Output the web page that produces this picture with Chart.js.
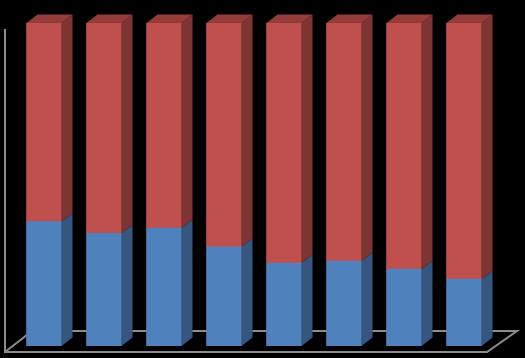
<!DOCTYPE html>
<html>
<head>
<meta charset="utf-8">
<script src="https://cdn.jsdelivr.net/npm/chart.js@4/dist/chart.umd.min.js"></script>
<style>
html,body{margin:0;padding:0;background:#000;}
#wrap{width:525px;height:358px;}
</style>
</head>
<body>
<div id="wrap"><canvas id="c" width="525" height="358"></canvas></div>
<script>
const categories = ["1", "2", "3", "4", "5", "6", "7", "8"];
const blueSeries = [38.5, 34.9, 36.5, 30.7, 25.7, 26.3, 23.8, 20.7];
const redSeries = [61.5, 65.1, 63.5, 69.3, 74.3, 73.7, 76.2, 79.3];

const DX = 11, DY = 8.5;
const sideColors = ["#36567f", "#7d3432"];
const topColors = ["#4a6f9e", "#953b39"];

const threeD = {
  id: 'threeD',
  beforeDraw(chart) {
    const ctx = chart.ctx;
    ctx.save();
    ctx.fillStyle = '#000';
    ctx.fillRect(0, 0, chart.width, chart.height);
    const a = chart.chartArea;
    const fy = a.bottom + 6, by = a.bottom - 15;
    const lx = 5, blx = 32;
    const frx = a.right - 7, brx = a.right + 23;
    ctx.strokeStyle = '#8c8c8c';
    ctx.lineWidth = 2;
    ctx.beginPath();
    ctx.moveTo(lx, a.top + 6);
    ctx.lineTo(lx, fy);
    ctx.lineTo(frx, fy);
    ctx.lineTo(brx, by);
    ctx.lineTo(blx, by);
    ctx.lineTo(lx, fy);
    ctx.stroke();
    ctx.restore();
  },
  afterDatasetsDraw(chart) {
    const ctx = chart.ctx;
    ctx.save();
    const n = chart.data.datasets.length;
    for (let d = 0; d < n; d++) {
      const meta = chart.getDatasetMeta(d);
      meta.data.forEach((bar) => {
        const p = bar.getProps(['x', 'y', 'base', 'width'], true);
        const left = p.x - p.width / 2, right = p.x + p.width / 2;
        const top = Math.min(p.y, p.base), bottom = Math.max(p.y, p.base);
        ctx.fillStyle = sideColors[d];
        ctx.beginPath();
        ctx.moveTo(right, top);
        ctx.lineTo(right + DX, top - DY);
        ctx.lineTo(right + DX, bottom - DY);
        ctx.lineTo(right, bottom);
        ctx.closePath();
        ctx.fill();
        if (d === n - 1) {
          ctx.fillStyle = topColors[d];
          ctx.beginPath();
          ctx.moveTo(left, top);
          ctx.lineTo(left + DX, top - DY);
          ctx.lineTo(right + DX, top - DY);
          ctx.lineTo(right, top);
          ctx.closePath();
          ctx.fill();
        }
      });
    }
    ctx.restore();
  }
};

new Chart(document.getElementById('c'), {
  type: 'bar',
  data: {
    labels: categories,
    datasets: [
      { label: 'A', data: blueSeries, backgroundColor: '#4f81bd', borderWidth: 0, barThickness: 35 },
      { label: 'B', data: redSeries, backgroundColor: '#c0504d', borderWidth: 0, barThickness: 35 }
    ]
  },
  options: {
    responsive: false,
    animation: false,
    layout: { padding: { left: 14, right: 31, top: 23, bottom: 12 } },
    plugins: { legend: { display: false }, tooltip: { enabled: false } },
    scales: {
      x: { stacked: true, display: false },
      y: { stacked: true, display: false, min: 0, max: 100 }
    }
  },
  plugins: [threeD]
});
</script>
</body>
</html>
